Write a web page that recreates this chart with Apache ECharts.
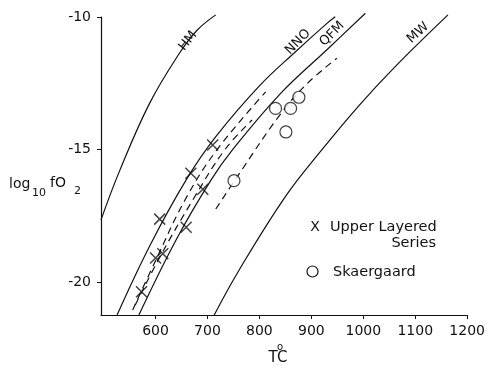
<!DOCTYPE html>
<html>
<head>
<meta charset="utf-8">
<script src="https://cdn.jsdelivr.net/npm/echarts@6/dist/echarts.min.js"></script>
<style>html,body{margin:0;padding:0;background:#fff}#c{width:488px;height:366px}</style>
</head>
<body>
<div id="c"></div>
<script>
// Tick labels
var xTicks = [600, 700, 800, 900, 1000, 1100, 1200];
var yTicks = [-20, -15, -10];

// Buffer curves [T (°C), log10 fO2]
var hmCurve  = [[495, -17.66], [531, -15.8], [588.5, -13.26], [646, -11.37], [680, -10.5], [716, -9.92]];
var nnoCurve = [[526, -21.25], [590, -18.6], [659, -16.15], [716, -14.52], [800, -12.6], [870, -11.3], [930, -10.24], [946, -9.99]];
var qfmCurve = [[568, -21.25], [640, -18.4], [707, -16.15], [748, -15.02], [840, -12.9], [933, -11.18], [1004, -9.86]];
var mwCurve  = [[713, -21.25], [761, -19.55], [850, -16.78], [920, -15.02], [990, -13.38], [1060, -11.9], [1163, -9.92]];

// Dashed trend lines
var ulsUpperLine = [[556, -21.06], [600, -19.2], [657, -16.9], [718, -15.02], [812, -12.83]];
var ulsLowerLine = [[561, -20.87], [610, -19.0], [672, -16.9], [733, -15.02], [786, -13.89]];
var skgLine      = [[716, -17.25], [760, -15.95], [837, -13.76], [889, -12.57], [949, -11.56]];

// Samples
var ulsT   = [710, 668, 691, 608, 659, 600, 614, 573];
var ulsFO2 = [-14.83, -15.9, -16.5, -17.63, -17.94, -19.1, -18.94, -20.37];
var skgT   = [831, 860, 876, 851, 751];
var skgFO2 = [-13.45, -13.45, -13.03, -14.34, -16.18];

function zip(a, b) { return a.map(function (v, i) { return [v, b[i]]; }); }

var chart = echarts.init(document.getElementById('c'), null, {renderer: 'canvas'});
var ink = '#111';
var font = 'DejaVu Sans';

function curve(data, dashed) {
  return {
    type: 'line', data: data, showSymbol: false, smooth: 0.4, clip: false, silent: true,
    lineStyle: {color: ink, width: 1.2, type: dashed ? [7, 5] : 'solid'},
    z: 2
  };
}

function label(text, x, y, deg, size) {
  return {type: 'text', x: x, y: y, rotation: deg * Math.PI / 180,
    style: {text: text, font: (size || 12) + 'px ' + font, fill: ink, align: 'center', verticalAlign: 'middle'}};
}

chart.setOption({
  backgroundColor: '#fff',
  animation: false,
  grid: {left: 101, right: 19, top: 17, bottom: 51},
  xAxis: {
    type: 'value', min: 495, max: 1200,
    axisLine: {lineStyle: {color: ink, width: 1.2}},
    axisTick: {show: true, inside: false, length: 4, customValues: xTicks, lineStyle: {color: ink}},
    axisLabel: {customValues: xTicks, color: ink, fontFamily: font, fontSize: 14, margin: 9,
      formatter: function (v) { return String(v); }},
    splitLine: {show: false}
  },
  yAxis: {
    type: 'value', min: -21.25, max: -10,
    axisLine: {show: true, lineStyle: {color: ink, width: 1.2}},
    axisTick: {show: true, inside: false, length: 4, customValues: yTicks, lineStyle: {color: ink}},
    axisLabel: {customValues: yTicks, color: ink, fontFamily: font, fontSize: 14, margin: 10,
      formatter: function (v) { return String(v); }},
    splitLine: {show: false}
  },
  series: [
    curve(hmCurve), curve(nnoCurve), curve(qfmCurve), curve(mwCurve),
    curve(ulsUpperLine, true), curve(ulsLowerLine, true), curve(skgLine, true),
    {
      type: 'scatter', data: zip(ulsT, ulsFO2), symbol: 'path://M0,0L10,10M10,0L0,10', symbolSize: 11,
      itemStyle: {color: 'transparent', borderColor: ink, borderWidth: 1.5}, z: 5
    },
    {
      type: 'scatter', data: zip(skgT, skgFO2), symbol: 'circle', symbolSize: 12,
      itemStyle: {color: '#fff', borderColor: ink, borderWidth: 1.2}, z: 5
    }
  ],
  graphic: [
    label('HM', 188, 41, 52, 13),
    label('NNO', 298, 42, 46, 13),
    label('QFM', 332, 34, 45, 13),
    label('MW', 418, 33, 42, 13),
    {type: 'text', x: 9, y: 184, style: {text: 'log', font: '14px ' + font, fill: ink, verticalAlign: 'middle'}},
    {type: 'text', x: 32, y: 193, style: {text: '10', font: '11px ' + font, fill: ink, verticalAlign: 'middle'}},
    {type: 'text', x: 50, y: 183, style: {text: 'fO', font: '14px ' + font, fill: ink, verticalAlign: 'middle'}},
    {type: 'text', x: 74, y: 191, style: {text: '2', font: '11px ' + font, fill: ink, verticalAlign: 'middle'}},
    {type: 'text', x: 278, y: 358, style: {text: 'TC', font: '15px ' + font, fill: ink, align: 'center', verticalAlign: 'middle'}},
    {type: 'text', x: 280, y: 347, style: {text: 'o', font: '10px ' + font, fill: ink, align: 'center', verticalAlign: 'middle'}},
    {type: 'text', x: 315, y: 227, style: {text: 'X', font: '14px ' + font, fill: ink, align: 'center', verticalAlign: 'middle'}},
    {type: 'text', x: 330, y: 227, style: {text: 'Upper Layered', font: '14.5px ' + font, fill: ink, verticalAlign: 'middle'}},
    {type: 'text', x: 436, y: 243, style: {text: 'Series', font: '14.5px ' + font, fill: ink, align: 'right', verticalAlign: 'middle'}},
    {type: 'circle', shape: {cx: 312.5, cy: 271.5, r: 5.5}, style: {fill: '#fff', stroke: ink, lineWidth: 1.2}},
    {type: 'text', x: 333, y: 272, style: {text: 'Skaergaard', font: '14.5px ' + font, fill: ink, verticalAlign: 'middle'}}
  ]
});
</script>
</body>
</html>
